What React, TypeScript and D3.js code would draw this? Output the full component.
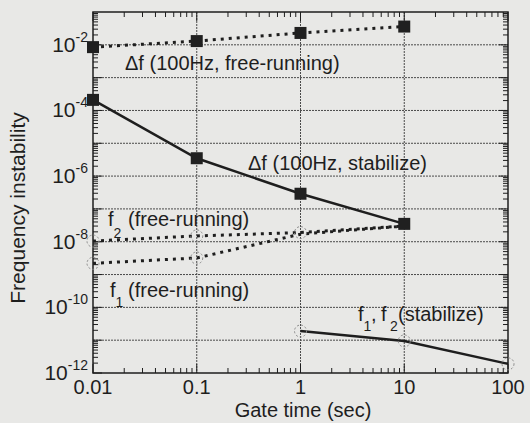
import React, { useRef, useEffect } from "react";
import * as d3 from "d3";

const gateTimes = [0.01, 0.1, 1, 10];
const dfFreeRunning = [8.5e-3, 1.3e-2, 2.3e-2, 3.6e-2];
const dfStabilized = [2.1e-4, 3.5e-6, 2.9e-7, 3.5e-8];
const f2FreeRunning = [1.05e-8, 1.5e-8, 1.9e-8, 3.0e-8];
const f1FreeRunning = [2.2e-9, 3.2e-9, 1.7e-8, 3.0e-8];
const stabGateTimes = [1, 10, 100];
const f12Stabilized = [1.9e-11, 9.5e-12, 1.9e-12];

const xTickValues = [0.01, 0.1, 1, 10, 100];
const xTickLabels = ["0.01", "0.1", "1", "10", "100"];
const yTickExponents = [-2, -4, -6, -8, -10, -12];

const W = 530;
const H = 423;
const FONT = "'Liberation Sans', Arial, Helvetica, sans-serif";
const INK = "#1e1e1e";

const App = () => {
  const svgRef = useRef<SVGSVGElement>(null);

  useEffect(() => {
    const margin = { left: 93, right: W - 508, top: 12, bottom: H - 373 };
    const innerW = W - margin.left - margin.right;
    const innerH = H - margin.top - margin.bottom;

    const svg = d3.select(svgRef.current);
    svg.selectAll("*").remove();

    svg
      .append("rect")
      .attr("width", W)
      .attr("height", H)
      .attr("fill", "#e8e8e6");

    const g = svg
      .append("g")
      .attr("transform", `translate(${margin.left},${margin.top})`);

    const xScale = d3.scaleLog().domain([0.01, 100]).range([0, innerW]);
    const yScale = d3.scaleLog().domain([1e-12, 1e-1]).range([innerH, 0]);

    // grid lines, one per decade
    const xDecades = [0.1, 1, 10];
    const yDecades = d3.range(-11, -1).map((e) => Math.pow(10, e));

    g.selectAll(".vgrid")
      .data(xDecades)
      .join("line")
      .attr("x1", (d) => xScale(d))
      .attr("x2", (d) => xScale(d))
      .attr("y1", 0)
      .attr("y2", innerH)
      .attr("stroke", "#4a4a4a")
      .attr("stroke-width", 1)
      .attr("stroke-dasharray", "2,1");

    g.selectAll(".hgrid")
      .data(yDecades)
      .join("line")
      .attr("x1", 0)
      .attr("x2", innerW)
      .attr("y1", (d) => yScale(d))
      .attr("y2", (d) => yScale(d))
      .attr("stroke", "#4a4a4a")
      .attr("stroke-width", 1)
      .attr("stroke-dasharray", "2,1");

    // ticks (inward, on all four sides)
    const xMinor: number[] = [];
    for (let e = -2; e < 2; e++) {
      for (let m = 2; m <= 9; m++) xMinor.push(m * Math.pow(10, e));
    }
    const yMinor: number[] = [];
    for (let e = -12; e < -1; e++) {
      for (let m = 2; m <= 9; m++) yMinor.push(m * Math.pow(10, e));
    }

    const tickGroup = g.append("g").attr("stroke", INK).attr("stroke-width", 1);
    xMinor.forEach((v) => {
      const x = xScale(v);
      tickGroup.append("line").attr("x1", x).attr("x2", x).attr("y1", innerH).attr("y2", innerH - 5);
      tickGroup.append("line").attr("x1", x).attr("x2", x).attr("y1", 0).attr("y2", 5);
    });
    xTickValues.forEach((v) => {
      const x = xScale(v);
      tickGroup.append("line").attr("x1", x).attr("x2", x).attr("y1", innerH).attr("y2", innerH - 9);
      tickGroup.append("line").attr("x1", x).attr("x2", x).attr("y1", 0).attr("y2", 9);
    });
    yMinor.forEach((v) => {
      const y = yScale(v);
      tickGroup.append("line").attr("x1", 0).attr("x2", 5).attr("y1", y).attr("y2", y);
      tickGroup.append("line").attr("x1", innerW).attr("x2", innerW - 5).attr("y1", y).attr("y2", y);
    });
    yDecades.concat([1e-12]).forEach((v) => {
      const y = yScale(v);
      tickGroup.append("line").attr("x1", 0).attr("x2", 9).attr("y1", y).attr("y2", y);
      tickGroup.append("line").attr("x1", innerW).attr("x2", innerW - 9).attr("y1", y).attr("y2", y);
    });

    // frame
    g.append("rect")
      .attr("width", innerW)
      .attr("height", innerH)
      .attr("fill", "none")
      .attr("stroke", INK)
      .attr("stroke-width", 1.5);

    const line = d3
      .line<[number, number]>()
      .x((d) => xScale(d[0]))
      .y((d) => yScale(d[1]));

    const zip = (xs: number[], ys: number[]) =>
      xs.map((x, i) => [x, ys[i]] as [number, number]);

    // dotted free-running curves
    [dfFreeRunning, f2FreeRunning, f1FreeRunning].forEach((ys) => {
      g.append("path")
        .datum(zip(gateTimes, ys))
        .attr("d", line)
        .attr("fill", "none")
        .attr("stroke", INK)
        .attr("stroke-width", 3)
        .attr("stroke-dasharray", "3,5");
    });

    // solid stabilized curves
    g.append("path")
      .datum(zip(gateTimes, dfStabilized))
      .attr("d", line)
      .attr("fill", "none")
      .attr("stroke", INK)
      .attr("stroke-width", 2.5);

    g.append("path")
      .datum(zip(stabGateTimes, f12Stabilized))
      .attr("d", line)
      .attr("fill", "none")
      .attr("stroke", INK)
      .attr("stroke-width", 2.5);

    // faint dashed circle markers
    const circlePts = zip(gateTimes.slice(0, 3), f2FreeRunning.slice(0, 3))
      .concat(zip(gateTimes.slice(0, 2), f1FreeRunning.slice(0, 2)))
      .concat(zip(stabGateTimes, f12Stabilized));
    g.selectAll(".circ")
      .data(circlePts)
      .join("circle")
      .attr("cx", (d) => xScale(d[0]))
      .attr("cy", (d) => yScale(d[1]))
      .attr("r", 6)
      .attr("fill", "none")
      .attr("stroke", "#8a8a8a")
      .attr("stroke-width", 1)
      .attr("stroke-dasharray", "2,2");

    // square markers on the delta-f curves
    const sq = 12;
    [dfFreeRunning, dfStabilized].forEach((ys) => {
      g.selectAll(null)
        .data(zip(gateTimes, ys))
        .join("rect")
        .attr("x", (d) => xScale(d[0]) - sq / 2)
        .attr("y", (d) => yScale(d[1]) - sq / 2)
        .attr("width", sq)
        .attr("height", sq)
        .attr("fill", "#202020");
    });

    // x tick labels
    svg
      .append("g")
      .selectAll("text")
      .data(xTickValues)
      .join("text")
      .attr("x", (d) => margin.left + xScale(d))
      .attr("y", 394)
      .attr("text-anchor", "middle")
      .attr("font-family", FONT)
      .attr("font-size", 20)
      .attr("fill", INK)
      .text((d, i) => xTickLabels[i]);

    // y tick labels 10^n
    yTickExponents.forEach((e) => {
      const y = margin.top + yScale(Math.pow(10, e));
      const t = svg
        .append("text")
        .attr("x", 88)
        .attr("y", y + 7)
        .attr("text-anchor", "end")
        .attr("font-family", FONT)
        .attr("font-size", 21)
        .attr("fill", INK);
      t.append("tspan").text("10");
      t.append("tspan")
        .attr("dy", -10)
        .attr("font-size", 14)
        .text(`-${-e}`);
    });

    // axis titles
    svg
      .append("text")
      .attr("x", 303)
      .attr("y", 417)
      .attr("text-anchor", "middle")
      .attr("font-family", FONT)
      .attr("font-size", 20)
      .attr("fill", INK)
      .text("Gate time (sec)");

    svg
      .append("text")
      .attr("transform", "translate(25,208) rotate(-90)")
      .attr("text-anchor", "middle")
      .attr("font-family", FONT)
      .attr("font-size", 21)
      .attr("fill", INK)
      .text("Frequency instability");

    // curve annotations
    const note = (x: number, y: number, parts: [string, number][]) => {
      const t = svg
        .append("text")
        .attr("x", x)
        .attr("y", y)
        .attr("font-family", FONT)
        .attr("font-size", 20)
        .attr("fill", INK);
      parts.forEach(([s, dy]) => {
        const ts = t.append("tspan").text(s);
        if (dy !== 0) ts.attr("dy", dy).attr("font-size", 14);
      });
      return t;
    };

    note(125, 70, [["\u0394f (100Hz, free-running)", 0]]);
    note(248, 170, [["\u0394f (100Hz, stabilize)", 0]]);

    note(108, 226, [["f", 0], ["2", 12]])
      .append("tspan")
      .attr("x", 128)
      .attr("y", 226)
      .text("(free-running)");
    note(110, 297, [["f", 0], ["1", 10]])
      .append("tspan")
      .attr("x", 128)
      .attr("y", 297)
      .text("(free-running)");

    const stab = note(358, 321, [["f", 0], ["1", 10]]);
    stab.append("tspan").attr("x", 371).attr("y", 321).text(",");
    stab.append("tspan").attr("x", 381).attr("y", 321).text("f");
    stab.append("tspan").attr("x", 390).attr("y", 331).attr("font-size", 14).text("2");
    stab.append("tspan").attr("x", 398).attr("y", 321).text("(stabilize)");
  }, []);

  return (
    <svg
      ref={svgRef}
      width={W}
      height={H}
      style={{ position: "absolute", left: 0, top: 0 }}
    />
  );
};

export default App;
